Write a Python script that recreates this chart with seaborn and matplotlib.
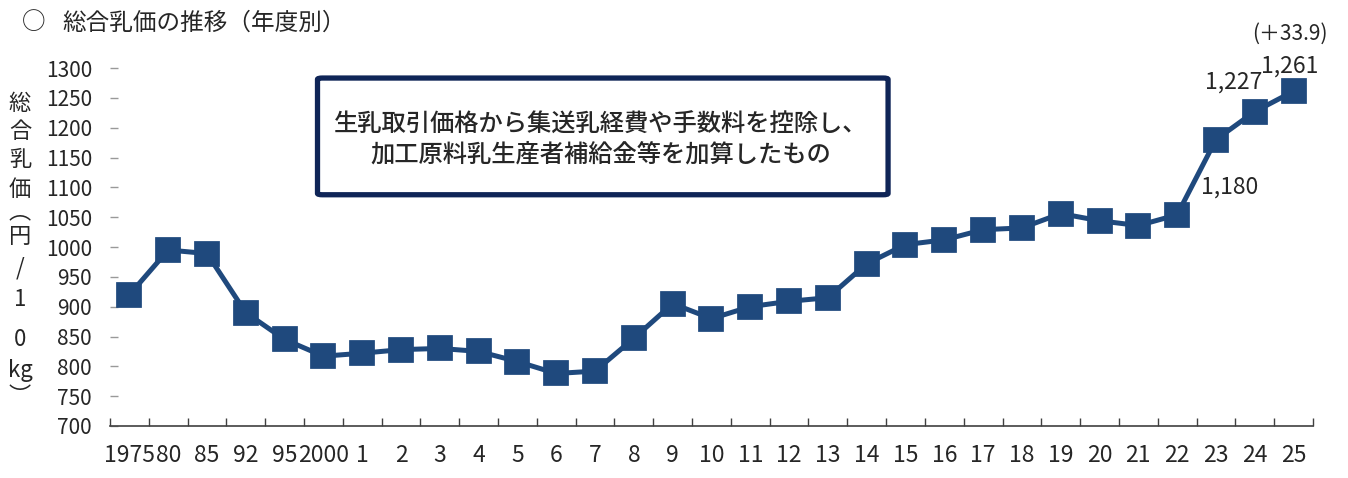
import numpy as np
import pandas as pd
import seaborn as sns
import matplotlib.pyplot as plt
from matplotlib.patches import FancyBboxPatch

# データ
nendo = ['1975', '80', '85', '92', '95', '2000'] + [str(x) for x in range(1, 26)]
nyuka = [920, 995, 989, 890, 845, 817, 822, 828, 830, 825, 808, 788, 792, 847,
         905, 880, 900, 909, 915, 972, 1004, 1012, 1029, 1032, 1056, 1044, 1036,
         1054, 1180, 1227, 1261]
label_txt = ['1,180', '1,227', '1,261']

sns.set_theme(style='white')
plt.rcParams['font.family'] = ['Noto Sans CJK JP', 'DejaVu Sans']

color = '#1F497D'

df = pd.DataFrame({'nendo': nendo, 'nyuka': nyuka})

fig = plt.figure(figsize=(13.48, 4.78), dpi=100)
ax = fig.add_axes([0.0816, 0.1088, 0.8924, 0.7489])

sns.pointplot(data=df, x='nendo', y='nyuka', color=color, markers='s',
              markersize=16, linewidth=3.6, ax=ax)

ax.set_xlim(-0.5, len(nendo) - 0.5)
ax.set_ylim(700, 1300)
ax.set_yticks(np.arange(700, 1301, 50))
ax.set_xlabel('')
ax.set_ylabel('')

for s in ['top', 'right', 'left']:
    ax.spines[s].set_visible(False)
ax.spines['bottom'].set_color('#404040')
ax.spines['bottom'].set_linewidth(1.2)

ax.tick_params(axis='y', direction='in', length=6, width=1, color='#999999',
               pad=13, labelsize=15, left=True)
ax.tick_params(axis='x', which='major', length=0, pad=13, labelsize=16.5)
ax.set_xticks(np.arange(-0.5, len(nendo)), minor=True)
ax.tick_params(axis='x', which='minor', direction='in', length=6, width=1,
               color='#404040', bottom=True)

# 値ラベル
ax.text(28.35, 1100, label_txt[0], fontsize=16.5, ha='center', va='center')
ax.text(28.45, 1277, label_txt[1], fontsize=16.5, ha='center', va='center')
ax.text(29.9, 1303, label_txt[2], fontsize=16.5, ha='center', va='center',
        clip_on=False)
ax.text(29.9, 1358, '(＋33.9)', fontsize=15, ha='center', va='center',
        clip_on=False)

# 説明ボックス
box = FancyBboxPatch((0.1725, 0.646), 0.4743, 0.326, transform=ax.transAxes,
                     boxstyle='round,pad=0,rounding_size=0.004',
                     facecolor='white', edgecolor='#0F2557', linewidth=3.8)
ax.add_patch(box)
ax.text(0.408, 0.80, '生乳取引価格から集送乳経費や手数料を控除し、\n加工原料乳生産者補給金等を加算したもの',
        transform=ax.transAxes, ha='center', va='center', fontsize=17.5,
        fontweight='medium', linespacing=1.15)

# タイトル
fig.text(0.016, 0.952, '○', fontsize=17, ha='left', va='center')
fig.text(0.046, 0.952, '総合乳価の推移（年度別）', fontsize=17, ha='left', va='center')

# 縦書きのラベル
ylab = [('総', 103), ('合', 131), ('乳', 160), ('価', 190), ('︵', 212),
        ('円', 236), ('/', 268), ('1', 299), ('0', 340), ('kg', 370), ('︶', 397)]
for ch, py in ylab:
    fig.text(20 / 1348, 1 - py / 478, ch, fontsize=16, ha='center', va='center')

fig.savefig('out.png', dpi=100)
